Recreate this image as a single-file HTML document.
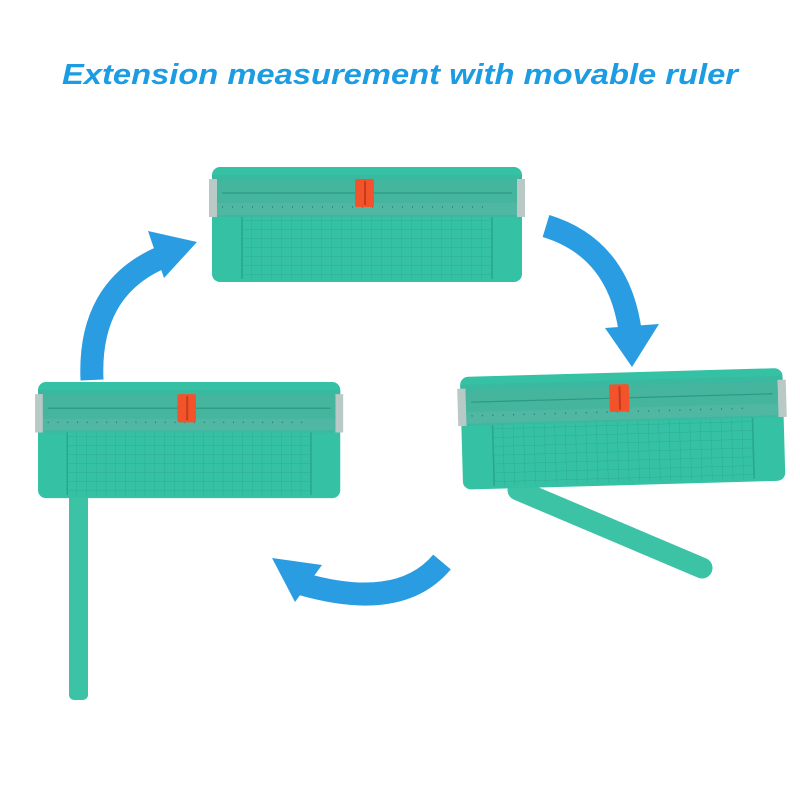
<!DOCTYPE html>
<html><head><style>
html,body{margin:0;padding:0;background:#fff;width:800px;height:800px;overflow:hidden}
</style></head><body>
<svg width="800" height="800" viewBox="0 0 800 800" xmlns="http://www.w3.org/2000/svg">
<defs>
<pattern id="grid" width="10" height="9" patternUnits="userSpaceOnUse">
<path d="M10 0V9M0 9H10" stroke="#2aa68d" stroke-width="0.7" fill="none"/>
</pattern>
<g id="cut">
<rect x="0" y="0" width="310" height="115" rx="8" fill="#35c1a4"/>
<rect x="0" y="8" width="310" height="42" fill="#3ab8a0"/>
<rect x="-3" y="12" width="8" height="38" fill="#b9c9c6"/>
<rect x="305" y="12" width="8" height="38" fill="#b9c9c6"/>
<rect x="5" y="14" width="300" height="22" fill="#45b59e"/>
<line x1="10" y1="26" x2="300" y2="26" stroke="#2a9a84" stroke-width="1.2"/>
<rect x="5" y="36" width="300" height="12" fill="#4fb7a2"/>
<line x1="10" y1="40" x2="280" y2="40" stroke="#2a7f70" stroke-width="1.5" stroke-dasharray="1 9"/>
<rect x="30" y="50" width="250" height="62" fill="url(#grid)"/>
<line x1="30" y1="50" x2="30" y2="112" stroke="#2aa68d" stroke-width="1.5"/>
<line x1="280" y1="50" x2="280" y2="112" stroke="#2aa68d" stroke-width="1.5"/>
<rect x="143" y="12" width="19" height="28" rx="2" fill="#f2532b"/>
<rect x="152" y="14" width="2" height="24" fill="#c83a1c"/>
</g>
</defs>
<text x="400" y="84" text-anchor="middle" font-family="Liberation Sans, sans-serif" font-weight="bold" font-style="italic" font-size="29" fill="#1c9ce2" textLength="676" lengthAdjust="spacingAndGlyphs">Extension measurement with movable ruler</text>

<use href="#cut" transform="translate(212,167)"/>

<rect x="69" y="490" width="19" height="210" rx="5" fill="#3cc3a6"/>
<use href="#cut" transform="translate(38,382) scale(0.975,1.01)"/>

<line x1="518" y1="490" x2="702" y2="568" stroke="#3cc3a6" stroke-width="21" stroke-linecap="round"/>
<use href="#cut" transform="translate(460,377) rotate(-1.6) scale(1.04,0.98)"/>

<g fill="none" stroke="#2a9de2" stroke-width="23">
<path d="M92,380 Q88,290 160,258"/>
<path d="M546,226 Q618,248 630,330"/>
<path d="M442,562 Q400,612 302,584"/>
</g>
<g fill="#2a9de2">
<polygon points="148,231 197,242 164,278"/>
<polygon points="605,328 659,324 632,367"/>
<polygon points="272,558 322,565 295,602"/>
</g>
</svg>
</body></html>
